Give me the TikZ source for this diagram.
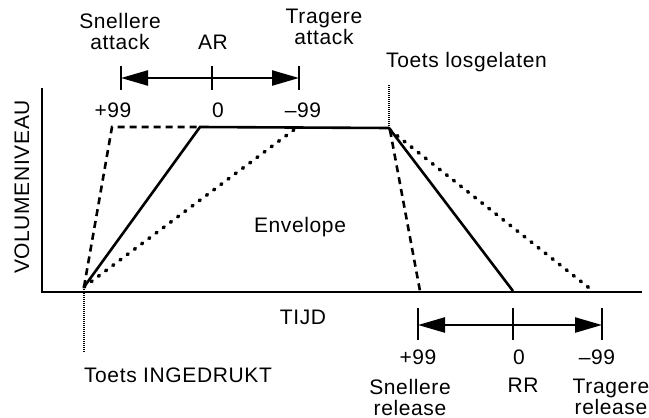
\documentclass[tikz,border=0pt]{standalone}
\usepackage{fontspec}
\setmainfont{Liberation Sans}[LetterSpace=3]
\usetikzlibrary{arrows.meta}

\begin{document}
\begin{tikzpicture}[x=1pt,y=-1pt,
    lbl/.style={font=\fontsize{21}{21}\selectfont, inner sep=0pt, align=center},
    axisline/.style={line width=2.8pt},
    env/.style={line width=2.6pt},
    envdash/.style={line width=2.6pt, dash pattern=on 7pt off 5pt},
    envdot/.style={line width=3.6pt, line cap=round, dash pattern=on 1.2pt off 7.8pt},
    keyline/.style={line width=1.2pt, dash pattern=on 1pt off 1pt},
    rangearrow/.style={line width=2.4pt, {Triangle[length=27pt,width=15pt]}-{Triangle[length=27pt,width=15pt]}},
    rangetick/.style={line width=2pt}]
    \useasboundingbox (0,0) rectangle (649,418);

    % Axes
    \coordinate (origin) at (42,292);
    \coordinate (ytop) at (42,88);
    \coordinate (xend) at (642,292);
    \draw[axisline] (ytop) -- (origin) -- (xend);
    \node[lbl, rotate=90] (vol) at (22,187) {VOLUMENIVEAU};
    \node[lbl] (tijd) at (303,317) {TIJD};

    % Key pressed / released
    \coordinate (keydown) at (84,287);
    \coordinate (keydownfoot) at (84,352);
    \coordinate (keyup) at (389,128);
    \coordinate (keyuptop) at (389,84);
    \draw[keyline] (keydown) -- (keydownfoot);
    \draw[keyline] (keyup) -- (keyuptop);
    \node[lbl] (ingedrukt) at (178,375) {Toets INGEDRUKT};
    \node[lbl, anchor=west] (losgelaten) at (386,62) {Toets losgelaten};

    % Attack
    \coordinate (atkfast) at (112,127);
    \coordinate (atkmid) at (200,127);
    \coordinate (atkslow) at (295,129);
    \draw[envdash] (keydown) -- (atkfast) -- (atkmid);
    \draw[env] (keydown) -- (atkmid) -- (keyup);
    \draw[envdot] (keydown) -- (atkslow);

    % Release
    \coordinate (relstart) at (390,130);
    \coordinate (relfast) at (420,291);
    \coordinate (relmid) at (513,291);
    \coordinate (relslow) at (593,291);
    \draw[envdash] (relstart) -- (relfast);
    \draw[env] (keyup) -- (relmid);
    \draw[envdot] (relstart) -- (relslow);
    \node[lbl] (envelope) at (300,227) {Envelope};

    % AR range
    \coordinate (arleft) at (121,78);
    \coordinate (arright) at (299,78);
    \draw[rangearrow] (arleft) -- (arright);
    \foreach \x in {121,212,299}
        \draw[rangetick] (\x,66) -- (\x,90);
    \node[lbl] (arfast) at (120,31) {Snellere\\attack};
    \node[lbl] (ar) at (213,42) {AR};
    \node[lbl] (arslow) at (324,27) {Tragere\\attack};
    \node[lbl] (arplus) at (113,110) {+99};
    \node[lbl] (arzero) at (218,110) {0};
    \node[lbl] (arminus) at (303,110) {–99};

    % RR range
    \coordinate (rrleft) at (418,325);
    \coordinate (rrright) at (602,325);
    \draw[rangearrow] (rrleft) -- (rrright);
    \foreach \x in {418,513,602}
        \draw[rangetick] (\x,308) -- (\x,340);
    \node[lbl] (rrplus) at (418,357) {+99};
    \node[lbl] (rrzero) at (519,357) {0};
    \node[lbl] (rrminus) at (597,357) {–99};
    \node[lbl] (rrfast) at (410,397) {Snellere\\release};
    \node[lbl] (rr) at (523,385) {RR};
    \node[lbl] (rrslow) at (611,397) {Tragere\\release};
\end{tikzpicture}
\end{document}
